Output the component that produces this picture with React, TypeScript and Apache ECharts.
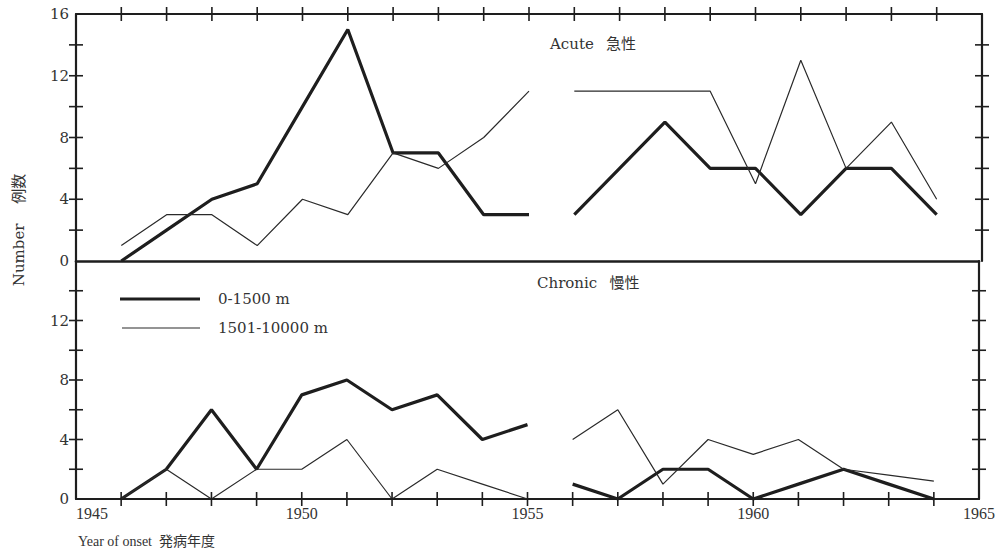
import React, { useEffect, useRef } from "react";
import * as echarts from "echarts";

const yearsA = [1946, 1947, 1948, 1949, 1950, 1951, 1952, 1953, 1954, 1955];
const yearsB = [1956, 1957, 1958, 1959, 1960, 1961, 1962, 1963, 1964];

// Acute (top panel)
const acuteLowA = [0, 2, 4, 5, 10, 15, 7, 7, 3, 3];
const acuteHighA = [1, 3, 3, 1, 4, 3, 7, 6, 8, 11];
const acuteLowB = [3, 6, 9, 6, 6, 3, 6, 6, 3];
const acuteHighB = [11, 11, 11, 11, 5, 13, 6, 9, 4];

// Chronic (bottom panel)
const chronicLowA = [0, 2, 6, 2, 7, 8, 6, 7, 4, 5];
const chronicHighA = [0, 2, 0, 2, 2, 4, 0, 2, 1, 0];
const chronicLowB = [1, 0, 2, 2, 0, 1, 2, 1, 0];
const chronicHighB = [4, 6, 1, 4, 3, 4, 2, 1.6, 1.2];

// tick positions
const xTickYears = [1946, 1947, 1948, 1949, 1950, 1951, 1952, 1953, 1954, 1955, 1956, 1957, 1958, 1959, 1960, 1961, 1962, 1963, 1964];
const yTickValues = [2, 4, 6, 8, 10, 12, 14];
const X_MIN = 1945;
const X_MAX = 1965;
const Y_MAX = 16;

const legendNames = ["0-1500 m", "1501-10000 m"];
const panelTitles = ["Acute\u2002 急性", "Chronic\u2002 慢性"];
const yTitle = "Number\u2003 例数";
const xTitle = "Year of onset  発病年度";

const INK = "#1e1e1e";
const TXT = "#333";
const SERIF = "'DejaVu Serif', 'Noto Sans CJK JP', serif";

const pair = (xs: number[], ys: number[]) => xs.map((x, i) => [x, ys[i]]);

export default function App() {
  const ref = useRef<HTMLDivElement>(null);
  useEffect(() => {
    if (!ref.current) return;
    const chart = echarts.init(ref.current, null, { renderer: "svg" });
    const thick = { color: INK, width: 3.2 };
    const thin = { color: "#2a2a2a", width: 1.2 };
    const mk = (name: string, data: number[][], style: any, idx: number) => ({
      type: "line",
      name,
      data,
      xAxisIndex: idx,
      yAxisIndex: idx * 2,
      showSymbol: false,
      symbol: "none",
      lineStyle: style,
      z: 3,
    });
    const TL = 7;
    const tickSeries = (gi: number, data: number[][], dir: string) => ({
      type: "scatter",
      xAxisIndex: gi,
      yAxisIndex: gi * 2,
      data,
      silent: true,
      z: 4,
      symbol: "rect",
      symbolSize: dir === "down" || dir === "up" ? [1.6, TL * 2] : [TL * 2, 1.6],
      itemStyle: { color: INK, opacity: 1 },
      clip: true,
    });
    const line = { show: true, onZero: false, lineStyle: { color: INK, width: 2.2 } };
    const xBase = {
      type: "value",
      min: X_MIN,
      max: X_MAX,
      interval: 1,
      splitLine: { show: false },
      axisLine: line,
      axisTick: { show: false },
    };
    const yLeft = (gi: number) => ({
      type: "value",
      gridIndex: gi,
      min: 0,
      max: Y_MAX,
      interval: 2,
      position: "left",
      splitLine: { show: false },
      axisLine: line,
      axisTick: { show: false },
      axisLabel: {
        color: TXT,
        fontFamily: SERIF,
        fontSize: 15,
        margin: 7,
        formatter: (v: number) => (v % 4 === 0 && !(gi === 1 && v === 16) ? String(v) : ""),
      },
    });
    const yRight = (gi: number) => ({
      type: "value",
      gridIndex: gi,
      min: 0,
      max: Y_MAX,
      interval: 2,
      position: "right",
      splitLine: { show: false },
      axisLine: line,
      axisTick: { show: false },
      axisLabel: { show: false },
    });
    chart.setOption({
      animation: false,
      backgroundColor: "#fff",
      grid: [
        { left: 76, width: 906, top: 14, height: 247, show: false },
        { left: 76, width: 906, top: 261, height: 238, show: false },
      ],
      xAxis: [
        { ...xBase, gridIndex: 0, position: "top", axisLabel: { show: false } },
        {
          ...xBase,
          gridIndex: 1,
          position: "bottom",
          axisLabel: {
            color: TXT,
            fontFamily: "'Liberation Serif', serif",
            fontSize: 16,
            margin: 6,
            alignMinLabel: "left",
            formatter: (v: number) => (v % 5 === 0 ? String(v) : ""),
          },
        },
        {
          ...xBase,
          gridIndex: 1,
          position: "top",
          axisLine: { show: true, onZero: false, lineStyle: { color: INK, width: 2.6 } },
          axisLabel: { show: false },
        },
      ],
      yAxis: [yLeft(0), yRight(0), yLeft(1), yRight(1)],
      series: [
        mk(legendNames[0], pair(yearsA, acuteLowA), thick, 0),
        mk(legendNames[1], pair(yearsA, acuteHighA), thin, 0),
        mk(legendNames[0], pair(yearsB, acuteLowB), thick, 0),
        mk(legendNames[1], pair(yearsB, acuteHighB), thin, 0),
        mk(legendNames[0], pair(yearsA, chronicLowA), thick, 1),
        mk(legendNames[1], pair(yearsA, chronicHighA), thin, 1),
        mk(legendNames[0], pair(yearsB, chronicLowB), thick, 1),
        mk(legendNames[1], pair(yearsB, chronicHighB), thin, 1),
        tickSeries(0, xTickYears.map((y) => [y, Y_MAX]), "down"),
        tickSeries(1, xTickYears.map((y) => [y, 0]), "up"),
        tickSeries(0, yTickValues.map((v) => [X_MIN, v]), "right"),
        tickSeries(0, yTickValues.map((v) => [X_MAX, v]), "left"),
        tickSeries(1, yTickValues.map((v) => [X_MIN, v]), "right"),
        tickSeries(1, yTickValues.map((v) => [X_MAX, v]), "left"),
      ],
      graphic: [
        {
          type: "text",
          left: 550,
          top: 36,
          style: { text: panelTitles[0], fill: TXT, font: `15px ${SERIF}` },
        },
        {
          type: "text",
          left: 537,
          top: 275,
          style: { text: panelTitles[1], fill: TXT, font: `15px ${SERIF}` },
        },
        {
          type: "line",
          shape: { x1: 120, y1: 299, x2: 200, y2: 299 },
          style: { stroke: INK, lineWidth: 3.2 },
        },
        {
          type: "line",
          shape: { x1: 122, y1: 328, x2: 200, y2: 328 },
          style: { stroke: "#2a2a2a", lineWidth: 1.2 },
        },
        {
          type: "text",
          x: 218,
          y: 299,
          style: { text: legendNames[0], fill: TXT, font: `15px ${SERIF}`, textVerticalAlign: "middle" },
        },
        {
          type: "text",
          x: 218,
          y: 328,
          style: { text: legendNames[1], fill: TXT, font: `15px ${SERIF}`, textVerticalAlign: "middle" },
        },
        {
          type: "text",
          x: 19,
          y: 230,
          rotation: Math.PI / 2,
          style: {
            text: yTitle,
            fill: TXT,
            font: `15px ${SERIF}`,
            textAlign: "center",
            textVerticalAlign: "middle",
          },
        },
        {
          type: "text",
          x: 78,
          y: 541,
          style: {
            text: xTitle,
            fill: TXT,
            font: `14px 'Liberation Serif', 'Noto Sans CJK JP', serif`,
            textVerticalAlign: "middle",
          },
        },
      ],
    });
    return () => chart.dispose();
  }, []);
  return <div ref={ref} style={{ width: 998, height: 552, position: "absolute", left: 0, top: 0 }} />;
}
